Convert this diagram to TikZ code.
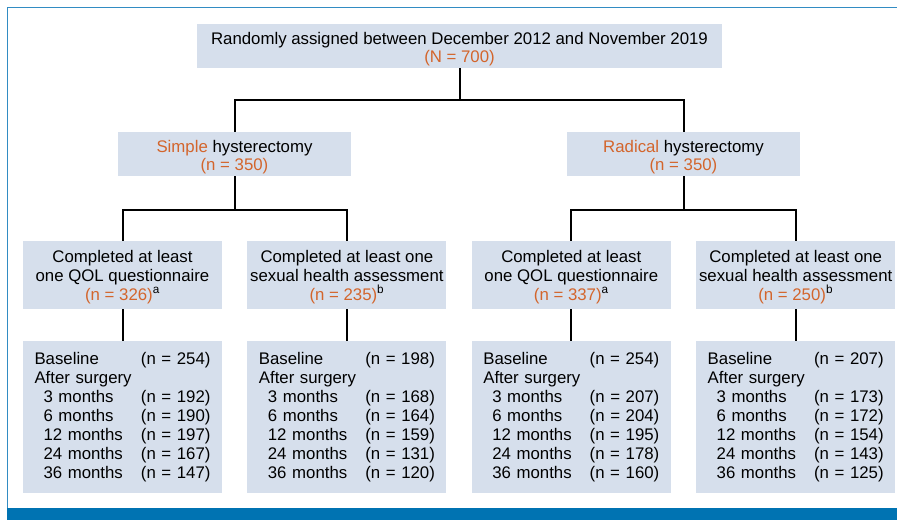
\documentclass[tikz,border=0pt]{standalone}
\usepackage{fontspec}
\setmainfont{Liberation Sans}
\usepackage{xcolor}
\usetikzlibrary{positioning}

\newcommand{\visit}[2]{\makebox[176pt][l]{#1\hfill(n = #2)}}
\newcommand{\later}[2]{\makebox[176pt][l]{\hspace*{9pt}#1\hfill(n = #2)}}
\newcommand{\tall}{\rule{0pt}{15pt}}

\begin{document}
\begin{tikzpicture}[x=1pt, y=-1pt, font=\fontsize{16.8}{19}\selectfont]

  \definecolor{my_box}{RGB}{214,223,236}
  \definecolor{my_orange}{RGB}{211,101,44}
  \definecolor{my_band}{RGB}{0,115,178}
  \definecolor{my_frame}{RGB}{50,140,195}

  \tikzstyle{block} = [rectangle, fill=my_box, align=center, inner sep=0pt]
  \tikzstyle{head} = [block, minimum height=44pt, text depth=0pt, font=\fontsize{16.8}{18.4}\selectfont]
  \tikzstyle{arm} = [block, minimum width=199pt, minimum height=68pt, text depth=0pt]
  \tikzstyle{counts} = [block, align=left, text width=176pt, minimum width=199pt, minimum height=152pt]
  \tikzstyle{wire} = [draw, line width=2pt]

  \useasboundingbox (0,0) rectangle (897,520);

  % frame and bottom band
  \draw [my_frame, line width=1pt] (7,508) -- (7,7.5) -- (897,7.5);
  \fill [my_band] (7,508) rectangle (897,520);

  \node [head, minimum width=525pt] at (459.5,46) (randomized) {\tall Randomly assigned between December 2012 and November 2019\\\textcolor{my_orange}{(N = 700)}};
  \node [head, minimum width=233pt] at (234.5,154) (simple) {\tall\textcolor{my_orange}{Simple} hysterectomy\\\textcolor{my_orange}{(n = 350)}};
  \node [head, minimum width=233pt] at (683.5,154) (radical) {\tall\textcolor{my_orange}{Radical} hysterectomy\\\textcolor{my_orange}{(n = 350)}};

  \node [arm] at (122.5,275) (qol_simple) {Completed at least\\one QOL questionnaire\\\textcolor{my_orange}{(n = 326)}\textsuperscript{a}};
  \node [arm, right=25pt of qol_simple] (sex_simple) {Completed at least one\\sexual health assessment\\\textcolor{my_orange}{(n = 235)}\textsuperscript{b}};
  \node [arm, right=25pt of sex_simple] (qol_radical) {Completed at least\\one QOL questionnaire\\\textcolor{my_orange}{(n = 337)}\textsuperscript{a}};
  \node [arm, right=25pt of qol_radical] (sex_radical) {Completed at least one\\sexual health assessment\\\textcolor{my_orange}{(n = 250)}\textsuperscript{b}};

  \node [counts, below=32pt of qol_simple] (qol_simple_n) {\visit{Baseline}{254}\\After surgery\\\later{3 months}{192}\\\later{6 months}{190}\\\later{12 months}{197}\\\later{24 months}{167}\\\later{36 months}{147}};
  \node [counts, below=32pt of sex_simple] (sex_simple_n) {\visit{Baseline}{198}\\After surgery\\\later{3 months}{168}\\\later{6 months}{164}\\\later{12 months}{159}\\\later{24 months}{131}\\\later{36 months}{120}};
  \node [counts, below=32pt of qol_radical] (qol_radical_n) {\visit{Baseline}{254}\\After surgery\\\later{3 months}{207}\\\later{6 months}{204}\\\later{12 months}{195}\\\later{24 months}{178}\\\later{36 months}{160}};
  \node [counts, below=32pt of sex_radical] (sex_radical_n) {\visit{Baseline}{207}\\After surgery\\\later{3 months}{173}\\\later{6 months}{172}\\\later{12 months}{154}\\\later{24 months}{143}\\\later{36 months}{125}};

  \path [wire] (randomized.south) -- ++(0,32) -| (simple.north);
  \path [wire] (randomized.south) -- ++(0,32) -| (radical.north);
  \path [wire] (simple.south) -- ++(0,34) -| (qol_simple.north);
  \path [wire] (simple.south) -- ++(0,34) -| (sex_simple.north);
  \path [wire] (radical.south) -- ++(0,34) -| (qol_radical.north);
  \path [wire] (radical.south) -- ++(0,34) -| (sex_radical.north);

  \path [wire] (qol_simple) -- (qol_simple_n);
  \path [wire] (sex_simple) -- (sex_simple_n);
  \path [wire] (qol_radical) -- (qol_radical_n);
  \path [wire] (sex_radical) -- (sex_radical_n);

\end{tikzpicture}
\end{document}
